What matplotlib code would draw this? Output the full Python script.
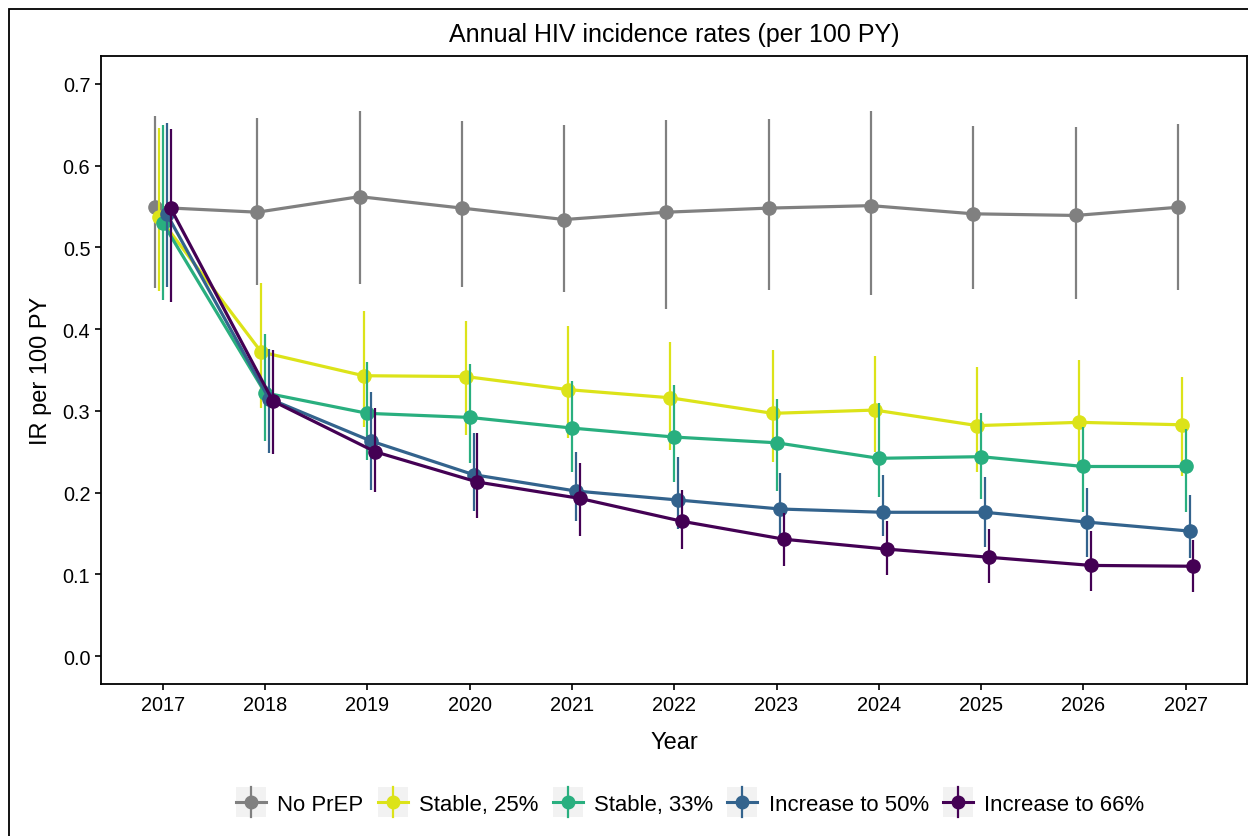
import numpy as np
import matplotlib
matplotlib.use('Agg')
import matplotlib.pyplot as plt
from matplotlib.legend_handler import HandlerBase
from matplotlib.patches import Rectangle
from matplotlib.lines import Line2D

plt.rcParams['font.family'] = ['Liberation Sans', 'DejaVu Sans']

years = np.arange(2017, 2028)
names = ['No PrEP', 'Stable, 25%', 'Stable, 33%', 'Increase to 50%', 'Increase to 66%']
colors = ['#808080', '#DCE319', '#29AF7F', '#33638D', '#440154']

# point estimates and interval bounds
no_prep = [0.549, 0.543, 0.562, 0.548, 0.534, 0.543, 0.548, 0.551, 0.541, 0.539, 0.549]
no_prep_lo = [0.450, 0.454, 0.455, 0.452, 0.446, 0.424, 0.448, 0.442, 0.449, 0.437, 0.448]
no_prep_hi = [0.661, 0.658, 0.667, 0.654, 0.650, 0.656, 0.657, 0.667, 0.649, 0.647, 0.651]

st25 = [0.537, 0.372, 0.343, 0.342, 0.326, 0.316, 0.297, 0.301, 0.282, 0.286, 0.283]
st25_lo = [0.447, 0.304, 0.280, 0.271, 0.267, 0.252, 0.237, 0.250, 0.225, 0.236, 0.220]
st25_hi = [0.646, 0.457, 0.422, 0.410, 0.404, 0.384, 0.375, 0.367, 0.354, 0.362, 0.341]

st33 = [0.530, 0.322, 0.297, 0.292, 0.279, 0.268, 0.261, 0.242, 0.244, 0.232, 0.232]
st33_lo = [0.436, 0.263, 0.240, 0.236, 0.225, 0.213, 0.202, 0.195, 0.192, 0.176, 0.176]
st33_hi = [0.650, 0.394, 0.360, 0.357, 0.337, 0.332, 0.315, 0.310, 0.297, 0.280, 0.278]

inc50 = [0.541, 0.315, 0.263, 0.222, 0.202, 0.191, 0.180, 0.176, 0.176, 0.164, 0.153]
inc50_lo = [0.452, 0.248, 0.203, 0.177, 0.165, 0.155, 0.147, 0.147, 0.134, 0.121, 0.120]
inc50_hi = [0.652, 0.376, 0.323, 0.273, 0.250, 0.244, 0.224, 0.222, 0.219, 0.206, 0.197]

inc66 = [0.548, 0.312, 0.250, 0.213, 0.193, 0.165, 0.143, 0.131, 0.121, 0.111, 0.110]
inc66_lo = [0.433, 0.247, 0.201, 0.169, 0.147, 0.131, 0.110, 0.099, 0.089, 0.080, 0.078]
inc66_hi = [0.645, 0.375, 0.304, 0.273, 0.236, 0.203, 0.175, 0.165, 0.155, 0.153, 0.142]

series = [(no_prep, no_prep_lo, no_prep_hi), (st25, st25_lo, st25_hi),
          (st33, st33_lo, st33_hi), (inc50, inc50_lo, inc50_hi),
          (inc66, inc66_lo, inc66_hi)]


class PointRangeKey(HandlerBase):
    # ggplot-like legend key: grey box, horizontal path, vertical range, dot
    def create_artists(self, legend, orig, xd, yd, w, h, fontsize, trans):
        c = orig.get_color()
        s = w
        x0 = -xd
        yc = (h - yd) / 2.
        y0 = yc - s / 2
        box = Rectangle((x0, y0), s, s, facecolor='#F2F2F2', edgecolor='none',
                        transform=trans)
        hl = Line2D([x0, x0 + s], [yc, yc], color=c, lw=2.2, transform=trans)
        vl = Line2D([x0 + s / 2] * 2, [y0, y0 + s], color=c, lw=1.6, transform=trans)
        pt = Line2D([x0 + s / 2], [yc], marker='o', ms=9, color=c,
                    lw=0, transform=trans)
        return [box, hl, vl, pt]


fig = plt.figure(figsize=(12.48, 8.37), dpi=100)
ax = fig.add_axes([0.0813, 0.1816, 0.9179, 0.7503])

dodge = 0.038
handles = []
for i, ((v, lo, hi), c, nm) in enumerate(zip(series, colors, names)):
    x = years + (i - 2) * dodge
    ax.plot(x, v, color=c, lw=2.3, zorder=3 + i, solid_capstyle='butt')
    ax.vlines(x, lo, hi, color=c, lw=1.6, zorder=3 + i)
    ax.plot(x, v, 'o', color=c, ms=9.5, zorder=3 + i)
    handles.append(Line2D([], [], color=c, label=nm))

ax.set_xlim(2016.4, 2027.6)
ax.set_ylim(-0.034, 0.734)
ax.set_xticks(years)
ax.set_yticks(np.arange(0, 0.71, 0.1))
ax.set_yticklabels(['%.1f' % t for t in np.arange(0, 0.71, 0.1)])
ax.tick_params(direction='out', length=4, width=1.2, colors='black',
               labelsize=14.3, pad=4)
for sp in ax.spines.values():
    sp.set_linewidth(1.3)
    sp.set_color('black')

ax.set_title('Annual HIV incidence rates (per 100 PY)', fontsize=18, pad=11)
ax.set_xlabel('Year', fontsize=17, labelpad=12)
ax.set_ylabel('IR per 100 PY', fontsize=17, labelpad=8)

fig.legend(handles=handles, handler_map={Line2D: PointRangeKey()},
           loc='center', bbox_to_anchor=(0.553, 0.038), ncol=5, frameon=False,
           fontsize=15.9, handlelength=1.36, handletextpad=0.5,
           columnspacing=0.66)

# outer frame around the whole plot
fig.patches.append(Rectangle((9 / 1248, -0.5), 2.0, 0.5 + 1 - 10 / 837,
                             transform=fig.transFigure, fill=False,
                             edgecolor='black', lw=1.3))

fig.savefig('out.png', dpi=100)
